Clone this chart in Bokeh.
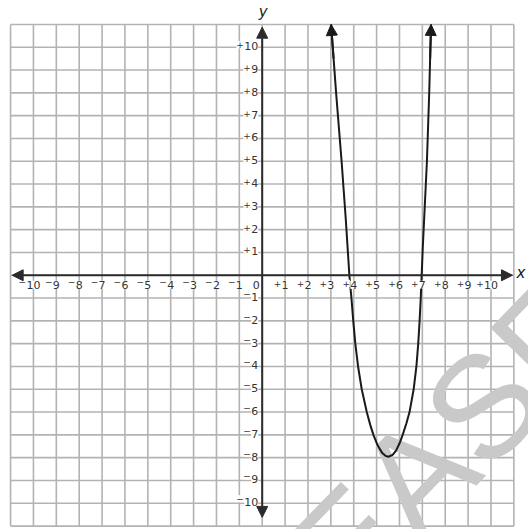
from bokeh.plotting import figure
from bokeh.models import Range1d, Arrow, NormalHead, LabelSet, ColumnDataSource, Label
from bokeh.core.properties import value
from bokeh.embed import file_html
from bokeh.resources import INLINE

# ---- data ----
grid_lines = [-11, -10, -9, -8, -7, -6, -5, -4, -3, -2, -1, 0, 1, 2, 3, 4, 5, 6, 7, 8, 9, 10, 11]
tick_values = [-10, -9, -8, -7, -6, -5, -4, -3, -2, -1, 1, 2, 3, 4, 5, 6, 7, 8, 9, 10]
tick_signs = ["−", "−", "−", "−", "−", "−", "−", "−", "−", "−",
              "+", "+", "+", "+", "+", "+", "+", "+", "+", "+"]
tick_digits = ["10", "9", "8", "7", "6", "5", "4", "3", "2", "1",
               "1", "2", "3", "4", "5", "6", "7", "8", "9", "10"]
x_axis_extent = [-10.93, 10.94]
y_axis_extent = [-10.62, 10.88]

curve_x = [3.01, 3.12, 3.23, 3.35, 3.47, 3.56, 3.65, 3.73, 3.81, 3.90, 3.98, 4.07, 4.19,
           4.35, 4.57, 4.72, 4.86, 5.05, 5.25, 5.4, 5.52, 5.7, 5.85, 6.0, 6.14,
           6.30, 6.44, 6.62, 6.74, 6.82, 6.88, 6.93, 6.97, 7.02, 7.08, 7.14, 7.20, 7.25, 7.30, 7.34, 7.38]
curve_y = [11.0, 9.5, 8.0, 6.5, 5.0, 3.75, 2.5, 1.25, 0.0, -1.0, -2.0, -3.0, -4.0,
           -5.0, -6.0, -6.55, -7.0, -7.47, -7.8, -7.93, -7.96, -7.88, -7.69, -7.38, -7.0,
           -6.5, -6.0, -5.0, -4.0, -3.0, -2.0, -1.0, 0.0, 1.25, 2.5, 3.75, 5.0, 6.5, 8.0, 9.5, 11.0]

GRID = "#b3b3b3"
AXIS = "#2b2b2b"
FONT = "DejaVu Sans"
LBL = "#333333"
DIGIT_W = 7.0   # px per digit at 11px

p = figure(width=528, height=529, x_range=Range1d(-11.44, 11.64), y_range=Range1d(-11.15, 12.05),
           output_backend="svg", toolbar_location=None, x_axis_type=None, y_axis_type=None,
           min_border=0)
p.grid.visible = False
p.outline_line_color = None
p.background_fill_color = "white"

gmin, gmax = grid_lines[0], grid_lines[-1]
# grid
p.segment(x0=grid_lines, y0=[gmin] * len(grid_lines), x1=grid_lines, y1=[gmax] * len(grid_lines),
          line_color=GRID, line_width=1.6)
p.segment(x0=[gmin] * len(grid_lines), y0=grid_lines, x1=[gmax] * len(grid_lines), y1=grid_lines,
          line_color=GRID, line_width=1.6)

# watermark
p.text(x=[8.23], y=[-7.25], text=["EASE"], angle=0.80, text_font=value("Liberation Sans"),
       text_font_size="145px", text_color="#c9c9c9",
       text_align="center", text_baseline="middle")

# tick labels: digits + raised signs
ndig = [len(d) for d in tick_digits]
sign_dy = [3.5 if s == "−" else 1.5 for s in tick_signs]
sign_size = "9px"

xsrc = ColumnDataSource(dict(x=tick_values, y=[0] * len(tick_values), t=tick_digits,
                             s=tick_signs, sx=[-n * DIGIT_W / 2 - 0.3 for n in ndig],
                             sy=[-9.5 + d for d in sign_dy]))
p.add_layout(LabelSet(x="x", y="y", text="t", source=xsrc, text_align="center", text_baseline="middle",
                      x_offset=0, y_offset=-9.5, text_font=value(FONT), text_font_size="11px",
                      text_color=LBL, background_fill_color="white"))
p.add_layout(LabelSet(x="x", y="y", text="s", source=xsrc, text_align="right", text_baseline="middle",
                      x_offset="sx", y_offset="sy", text_font=value(FONT), text_font_size=sign_size,
                      text_color=LBL, background_fill_color="white"))

ysrc = ColumnDataSource(dict(x=[0] * len(tick_values), y=tick_values, t=tick_digits,
                             s=tick_signs, sx=[-4 - n * DIGIT_W - 0.3 for n in ndig],
                             sy=[1 + d for d in sign_dy]))
p.add_layout(LabelSet(x="x", y="y", text="t", source=ysrc, text_align="right", text_baseline="middle",
                      x_offset=-4, y_offset=1, text_font=value(FONT), text_font_size="11px",
                      text_color=LBL, background_fill_color="white"))
p.add_layout(LabelSet(x="x", y="y", text="s", source=ysrc, text_align="right", text_baseline="middle",
                      x_offset="sx", y_offset="sy", text_font=value(FONT), text_font_size=sign_size,
                      text_color=LBL, background_fill_color="white"))
p.add_layout(Label(x=0, y=0, text="0", text_align="center", text_baseline="middle",
                   x_offset=-6, y_offset=-10, text_font=FONT, text_font_size="11px",
                   text_color=LBL))

# axes with arrows
p.add_layout(Arrow(start=NormalHead(size=11, fill_color=AXIS, line_color=AXIS),
                   end=NormalHead(size=11, fill_color=AXIS, line_color=AXIS),
                   x_start=x_axis_extent[0], y_start=0, x_end=x_axis_extent[1], y_end=0,
                   line_color=AXIS, line_width=2))
p.add_layout(Arrow(start=NormalHead(size=11, fill_color=AXIS, line_color=AXIS),
                   end=NormalHead(size=11, fill_color=AXIS, line_color=AXIS),
                   x_start=0, y_start=y_axis_extent[0], x_end=0, y_end=y_axis_extent[1],
                   line_color=AXIS, line_width=2))

# axis names
p.add_layout(Label(x=x_axis_extent[1], y=0, text="x", text_align="left", text_baseline="middle",
                   x_offset=4, y_offset=2, text_font=FONT, text_font_style="italic",
                   text_font_size="15px", text_color="#222222"))
p.add_layout(Label(x=0, y=y_axis_extent[1], text="y", text_align="center", text_baseline="middle",
                   x_offset=1, y_offset=15, text_font=FONT, text_font_style="italic",
                   text_font_size="15px", text_color="#222222"))

# curve
p.line(curve_x, curve_y, line_color="#1a1a1a", line_width=2)
p.add_layout(Arrow(end=NormalHead(size=11, fill_color="#1a1a1a", line_color="#1a1a1a"),
                   x_start=curve_x[1], y_start=curve_y[1], x_end=curve_x[0], y_end=curve_y[0],
                   line_color="#1a1a1a", line_width=2))
p.add_layout(Arrow(end=NormalHead(size=11, fill_color="#1a1a1a", line_color="#1a1a1a"),
                   x_start=curve_x[-2], y_start=curve_y[-2], x_end=curve_x[-1], y_end=curve_y[-1],
                   line_color="#1a1a1a", line_width=2))

open("out.html", "w").write(file_html(p, INLINE))
